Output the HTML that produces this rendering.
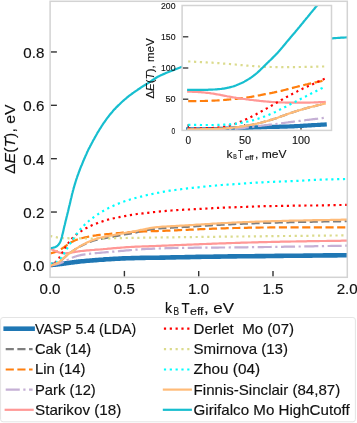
<!DOCTYPE html><html><head><meta charset="utf-8"><style>html,body{margin:0;padding:0;background:#fff;width:357px;height:423px;overflow:hidden}svg{display:block;will-change:transform}</style></head><body>
<svg width="357" height="423" viewBox="0 0 357 423" font-family="'Liberation Sans', sans-serif">
<style>text{stroke:#111;stroke-width:0.15;stroke-linejoin:round}.s{stroke-width:0.1}</style>
<rect x="0" y="0" width="357" height="423" fill="#fff"/>
<defs><clipPath id="cm"><rect x="50.1" y="1.3" width="297.2" height="276"/></clipPath><clipPath id="ci"><rect x="182.1" y="5.5" width="149.4" height="124.9"/></clipPath></defs>
<line x1="50.8" y1="265.40" x2="56.9" y2="265.40" stroke="#333" stroke-width="1.4"/>
<line x1="50.8" y1="212.04" x2="56.9" y2="212.04" stroke="#333" stroke-width="1.4"/>
<line x1="50.8" y1="158.68" x2="56.9" y2="158.68" stroke="#333" stroke-width="1.4"/>
<line x1="50.8" y1="105.32" x2="56.9" y2="105.32" stroke="#333" stroke-width="1.4"/>
<line x1="50.8" y1="51.96" x2="56.9" y2="51.96" stroke="#333" stroke-width="1.4"/>
<line x1="124.40" y1="270.9" x2="124.40" y2="276.6" stroke="#333" stroke-width="1.4"/>
<line x1="198.70" y1="270.9" x2="198.70" y2="276.6" stroke="#333" stroke-width="1.4"/>
<line x1="273.00" y1="270.9" x2="273.00" y2="276.6" stroke="#333" stroke-width="1.4"/>
<g clip-path="url(#cm)">
<path d="M50.1,265.1L50.6,265.0L51.1,265.0L51.6,264.9L52.1,264.9L52.6,264.8L53.1,264.8L53.6,264.7L54.1,264.7L54.6,264.7L55.1,264.6L55.6,264.6L56.1,264.5L56.6,264.4L57.2,264.4L57.7,264.3L58.2,264.3L58.7,264.2L59.2,264.2L59.7,264.1L60.2,264.0L60.7,264.0L61.2,263.9L61.7,263.9L62.2,263.8L62.7,263.7L63.2,263.7L63.7,263.6L64.2,263.5L64.7,263.5L65.2,263.4L65.7,263.3L66.2,263.2L66.7,263.2L67.2,263.1L67.7,263.0L68.2,263.0L68.7,262.9L69.2,262.8L69.7,262.7L70.2,262.7L70.8,262.6L71.3,262.5L71.8,262.5L72.3,262.4L72.8,262.4L73.3,262.3L73.8,262.2L74.3,262.2L74.8,262.1L75.3,262.0L75.8,262.0L76.3,261.9L76.8,261.9L77.3,261.8L77.8,261.7L78.3,261.7L78.8,261.6L79.3,261.6L79.8,261.5L81.6,261.3L83.4,261.2L85.2,261.0L87,260.8L88.8,260.7L90.6,260.5L92.4,260.4L94.2,260.2L96,260.1L97.8,260.0L99.6,259.8L101.4,259.7L103.2,259.6L105,259.4L106.7,259.3L108.5,259.2L110.3,259.1L112.1,259.0L113.9,258.9L115.7,258.8L117.5,258.7L119.3,258.6L121.1,258.5L122.9,258.4L124.7,258.4L126.5,258.3L128.3,258.2L130.1,258.2L131.9,258.1L133.7,258.1L135.5,258.0L137.3,258.0L139.1,258.0L140.9,257.9L142.7,257.9L144.4,257.9L146.2,257.8L148,257.8L149.8,257.8L151.6,257.8L153.4,257.7L155.2,257.7L157,257.7L158.8,257.7L160.6,257.6L162.4,257.6L164.2,257.6L166,257.5L167.8,257.5L169.6,257.5L171.4,257.4L173.2,257.4L175,257.4L176.8,257.3L178.6,257.3L180.3,257.2L182.1,257.2L183.9,257.2L185.7,257.1L187.5,257.1L189.3,257.1L191.1,257.0L192.9,257.0L194.7,257.0L196.5,256.9L198.3,256.9L200.1,256.9L201.9,256.8L203.7,256.8L205.5,256.8L207.3,256.7L209.1,256.7L210.9,256.7L212.7,256.7L214.5,256.6L216.3,256.6L218,256.6L219.8,256.6L221.6,256.5L223.4,256.5L225.2,256.5L227,256.5L228.8,256.4L230.6,256.4L232.4,256.4L234.2,256.4L236,256.4L237.8,256.3L239.6,256.3L241.4,256.3L243.2,256.3L245,256.3L246.8,256.2L248.6,256.2L250.4,256.2L252.2,256.2L254,256.2L255.7,256.1L257.5,256.1L259.3,256.1L261.1,256.1L262.9,256.1L264.7,256.1L266.5,256.0L268.3,256.0L270.1,256.0L271.9,256.0L273.7,256.0L275.5,255.9L277.3,255.9L279.1,255.9L280.9,255.9L282.7,255.9L284.5,255.8L286.3,255.8L288.1,255.8L289.9,255.8L291.6,255.8L293.4,255.7L295.2,255.7L297,255.7L298.8,255.7L300.6,255.7L302.4,255.7L304.2,255.6L306,255.6L307.8,255.6L309.6,255.6L311.4,255.6L313.2,255.5L315,255.5L316.8,255.5L318.6,255.5L320.4,255.5L322.2,255.5L324,255.4L325.8,255.4L327.6,255.4L329.3,255.4L331.1,255.4L332.9,255.4L334.7,255.4L336.5,255.4L338.3,255.3L340.1,255.3L341.9,255.3L343.7,255.3L345.5,255.3L347.3,255.3" fill="none" stroke="#1f77b4" stroke-width="4.6" stroke-linecap="square" stroke-linejoin="round"/>
<path d="M50.1,265.6L50.6,265.5L51.1,265.4L51.6,265.2L52.1,265.1L52.6,264.9L53.1,264.8L53.6,264.6L54.1,264.4L54.6,264.3L55.1,264.1L55.6,263.8L56.1,263.6L56.6,263.4L57.2,263.1L57.7,262.8L58.2,262.5L58.7,262.2L59.2,261.9L59.7,261.5L60.2,261.1L60.7,260.7L61.2,260.3L61.7,259.9L62.2,259.5L62.7,259.1L63.2,258.6L63.7,258.2L64.2,257.7L64.7,257.3L65.2,256.8L65.7,256.4L66.2,256.0L66.7,255.5L67.2,255.1L67.7,254.7L68.2,254.3L68.7,253.9L69.2,253.5L69.7,253.1L70.2,252.8L70.8,252.4L71.3,252.0L71.8,251.7L72.3,251.3L72.8,251.0L73.3,250.6L73.8,250.3L74.3,249.9L74.8,249.6L75.3,249.3L75.8,249.0L76.3,248.7L76.8,248.3L77.3,248.0L77.8,247.7L78.3,247.5L78.8,247.2L79.3,246.9L79.8,246.6L81.6,245.7L83.4,244.8L85.2,243.9L87,243.1L88.8,242.4L90.6,241.7L92.4,241.0L94.2,240.5L96,240.0L97.8,239.6L99.6,239.2L101.4,238.8L103.2,238.5L105,238.2L106.7,237.8L108.5,237.5L110.3,237.2L112.1,236.9L113.9,236.5L115.7,236.2L117.5,235.9L119.3,235.5L121.1,235.2L122.9,234.9L124.7,234.5L126.5,234.2L128.3,233.9L130.1,233.6L131.9,233.2L133.7,232.9L135.5,232.6L137.3,232.2L139.1,231.8L140.9,231.4L142.7,231.1L144.4,230.7L146.2,230.3L148,230.0L149.8,229.7L151.6,229.4L153.4,229.1L155.2,228.9L157,228.7L158.8,228.5L160.6,228.3L162.4,228.2L164.2,228.1L166,228.0L167.8,227.9L169.6,227.8L171.4,227.7L173.2,227.6L175,227.5L176.8,227.4L178.6,227.3L180.3,227.2L182.1,227.1L183.9,227.0L185.7,226.9L187.5,226.8L189.3,226.7L191.1,226.6L192.9,226.5L194.7,226.3L196.5,226.2L198.3,226.1L200.1,226.0L201.9,225.9L203.7,225.8L205.5,225.7L207.3,225.6L209.1,225.5L210.9,225.3L212.7,225.2L214.5,225.1L216.3,225.0L218,224.9L219.8,224.8L221.6,224.7L223.4,224.6L225.2,224.5L227,224.5L228.8,224.4L230.6,224.3L232.4,224.2L234.2,224.1L236,224.0L237.8,223.9L239.6,223.9L241.4,223.8L243.2,223.7L245,223.6L246.8,223.6L248.6,223.5L250.4,223.4L252.2,223.4L254,223.3L255.7,223.2L257.5,223.2L259.3,223.1L261.1,223.0L262.9,223.0L264.7,222.9L266.5,222.9L268.3,222.8L270.1,222.8L271.9,222.7L273.7,222.7L275.5,222.6L277.3,222.6L279.1,222.5L280.9,222.5L282.7,222.4L284.5,222.4L286.3,222.3L288.1,222.3L289.9,222.2L291.6,222.2L293.4,222.1L295.2,222.1L297,222.1L298.8,222.0L300.6,222.0L302.4,222.0L304.2,221.9L306,221.9L307.8,221.8L309.6,221.8L311.4,221.8L313.2,221.7L315,221.7L316.8,221.7L318.6,221.6L320.4,221.6L322.2,221.6L324,221.5L325.8,221.5L327.6,221.5L329.3,221.5L331.1,221.4L332.9,221.4L334.7,221.4L336.5,221.3L338.3,221.3L340.1,221.3L341.9,221.2L343.7,221.2L345.5,221.2L347.3,221.2" fill="none" stroke="#7f7f7f" stroke-width="2.2" stroke-dasharray="8.14 3.52" stroke-linejoin="round"/>
<path d="M50.1,253.4L50.6,253.3L51.1,253.2L51.6,253.1L52.1,252.9L52.6,252.8L53.1,252.7L53.6,252.5L54.1,252.4L54.6,252.2L55.1,252.1L55.6,251.9L56.1,251.7L56.6,251.5L57.2,251.3L57.7,251.1L58.2,250.8L58.7,250.6L59.2,250.3L59.7,250.0L60.2,249.7L60.7,249.4L61.2,249.1L61.7,248.8L62.2,248.4L62.7,248.1L63.2,247.8L63.7,247.4L64.2,247.1L64.7,246.7L65.2,246.3L65.7,246.0L66.2,245.6L66.7,245.3L67.2,244.9L67.7,244.6L68.2,244.2L68.7,243.9L69.2,243.6L69.7,243.2L70.2,242.9L70.8,242.6L71.3,242.3L71.8,242.0L72.3,241.8L72.8,241.5L73.3,241.2L73.8,241.0L74.3,240.8L74.8,240.5L75.3,240.3L75.8,240.1L76.3,239.9L76.8,239.7L77.3,239.5L77.8,239.4L78.3,239.2L78.8,239.0L79.3,238.9L79.8,238.7L81.6,238.2L83.4,237.8L85.2,237.4L87,237.0L88.8,236.6L90.6,236.3L92.4,235.9L94.2,235.6L96,235.4L97.8,235.1L99.6,234.9L101.4,234.7L103.2,234.5L105,234.4L106.7,234.2L108.5,234.0L110.3,233.8L112.1,233.6L113.9,233.5L115.7,233.3L117.5,233.1L119.3,233.0L121.1,232.8L122.9,232.6L124.7,232.5L126.5,232.3L128.3,232.2L130.1,232.1L131.9,232.0L133.7,231.8L135.5,231.8L137.3,231.7L139.1,231.6L140.9,231.5L142.7,231.5L144.4,231.4L146.2,231.4L148,231.3L149.8,231.3L151.6,231.2L153.4,231.2L155.2,231.1L157,231.1L158.8,231.0L160.6,230.9L162.4,230.9L164.2,230.8L166,230.7L167.8,230.7L169.6,230.6L171.4,230.5L173.2,230.4L175,230.4L176.8,230.3L178.6,230.2L180.3,230.1L182.1,230.0L183.9,230.0L185.7,229.9L187.5,229.8L189.3,229.7L191.1,229.6L192.9,229.6L194.7,229.5L196.5,229.4L198.3,229.3L200.1,229.2L201.9,229.2L203.7,229.1L205.5,229.0L207.3,228.9L209.1,228.9L210.9,228.8L212.7,228.7L214.5,228.7L216.3,228.6L218,228.5L219.8,228.5L221.6,228.4L223.4,228.4L225.2,228.3L227,228.2L228.8,228.2L230.6,228.1L232.4,228.1L234.2,228.0L236,228.0L237.8,228.0L239.6,227.9L241.4,227.9L243.2,227.8L245,227.8L246.8,227.8L248.6,227.7L250.4,227.7L252.2,227.7L254,227.6L255.7,227.6L257.5,227.6L259.3,227.6L261.1,227.5L262.9,227.5L264.7,227.5L266.5,227.5L268.3,227.5L270.1,227.4L271.9,227.4L273.7,227.4L275.5,227.4L277.3,227.4L279.1,227.4L280.9,227.4L282.7,227.3L284.5,227.3L286.3,227.3L288.1,227.3L289.9,227.3L291.6,227.3L293.4,227.3L295.2,227.3L297,227.3L298.8,227.3L300.6,227.3L302.4,227.3L304.2,227.3L306,227.3L307.8,227.3L309.6,227.3L311.4,227.3L313.2,227.3L315,227.3L316.8,227.3L318.6,227.3L320.4,227.3L322.2,227.3L324,227.3L325.8,227.3L327.6,227.3L329.3,227.3L331.1,227.3L332.9,227.4L334.7,227.4L336.5,227.4L338.3,227.4L340.1,227.4L341.9,227.4L343.7,227.4L345.5,227.4L347.3,227.4" fill="none" stroke="#ff7f0e" stroke-width="2.2" stroke-dasharray="8.14 3.52" stroke-linejoin="round"/>
<path d="M50.1,265.4L50.6,265.4L51.1,265.3L51.6,265.2L52.1,265.1L52.6,265.1L53.1,265.0L53.6,264.9L54.1,264.8L54.6,264.7L55.1,264.6L55.6,264.5L56.1,264.4L56.6,264.3L57.2,264.1L57.7,264.0L58.2,263.8L58.7,263.7L59.2,263.5L59.7,263.4L60.2,263.2L60.7,263.0L61.2,262.8L61.7,262.6L62.2,262.4L62.7,262.2L63.2,262.0L63.7,261.8L64.2,261.6L64.7,261.3L65.2,261.1L65.7,260.9L66.2,260.6L66.7,260.4L67.2,260.1L67.7,259.9L68.2,259.7L68.7,259.4L69.2,259.2L69.7,258.9L70.2,258.7L70.8,258.4L71.3,258.2L71.8,258.0L72.3,257.7L72.8,257.5L73.3,257.3L73.8,257.1L74.3,256.9L74.8,256.7L75.3,256.6L75.8,256.4L76.3,256.2L76.8,256.1L77.3,255.9L77.8,255.8L78.3,255.7L78.8,255.5L79.3,255.4L79.8,255.3L81.6,254.9L83.4,254.6L85.2,254.3L87,254.1L88.8,253.9L90.6,253.7L92.4,253.5L94.2,253.3L96,253.1L97.8,253.0L99.6,252.8L101.4,252.6L103.2,252.5L105,252.3L106.7,252.2L108.5,252.1L110.3,251.9L112.1,251.7L113.9,251.6L115.7,251.4L117.5,251.3L119.3,251.1L121.1,250.9L122.9,250.8L124.7,250.6L126.5,250.4L128.3,250.3L130.1,250.1L131.9,250.0L133.7,249.8L135.5,249.7L137.3,249.6L139.1,249.5L140.9,249.3L142.7,249.2L144.4,249.1L146.2,249.0L148,248.9L149.8,248.8L151.6,248.8L153.4,248.7L155.2,248.6L157,248.5L158.8,248.5L160.6,248.4L162.4,248.3L164.2,248.3L166,248.2L167.8,248.2L169.6,248.1L171.4,248.1L173.2,248.0L175,248.0L176.8,248.0L178.6,247.9L180.3,247.9L182.1,247.9L183.9,247.9L185.7,247.8L187.5,247.8L189.3,247.8L191.1,247.8L192.9,247.8L194.7,247.7L196.5,247.7L198.3,247.7L200.1,247.7L201.9,247.7L203.7,247.7L205.5,247.7L207.3,247.6L209.1,247.6L210.9,247.6L212.7,247.6L214.5,247.6L216.3,247.6L218,247.6L219.8,247.5L221.6,247.5L223.4,247.5L225.2,247.5L227,247.5L228.8,247.5L230.6,247.4L232.4,247.4L234.2,247.4L236,247.4L237.8,247.4L239.6,247.3L241.4,247.3L243.2,247.3L245,247.3L246.8,247.3L248.6,247.2L250.4,247.2L252.2,247.2L254,247.2L255.7,247.2L257.5,247.1L259.3,247.1L261.1,247.1L262.9,247.1L264.7,247.0L266.5,247.0L268.3,247.0L270.1,247.0L271.9,246.9L273.7,246.9L275.5,246.9L277.3,246.8L279.1,246.8L280.9,246.8L282.7,246.8L284.5,246.7L286.3,246.7L288.1,246.7L289.9,246.6L291.6,246.6L293.4,246.6L295.2,246.6L297,246.5L298.8,246.5L300.6,246.5L302.4,246.4L304.2,246.4L306,246.4L307.8,246.4L309.6,246.3L311.4,246.3L313.2,246.3L315,246.2L316.8,246.2L318.6,246.2L320.4,246.1L322.2,246.1L324,246.1L325.8,246.0L327.6,246.0L329.3,246.0L331.1,245.9L332.9,245.9L334.7,245.9L336.5,245.8L338.3,245.8L340.1,245.8L341.9,245.8L343.7,245.7L345.5,245.7L347.3,245.7" fill="none" stroke="#c5b0d5" stroke-width="2.2" stroke-dasharray="14.08 3.52 2.20 3.52" stroke-linejoin="round"/>
<path d="M50.1,248.7L50.6,249.0L51.1,249.2L51.6,249.4L52.1,249.6L52.6,249.8L53.1,250.1L53.6,250.3L54.1,250.5L54.6,250.7L55.1,251.0L55.6,251.2L56.1,251.4L56.6,251.6L57.2,251.8L57.7,252.0L58.2,252.2L58.7,252.3L59.2,252.5L59.7,252.6L60.2,252.8L60.7,252.9L61.2,253.0L61.7,253.1L62.2,253.1L62.7,253.2L63.2,253.3L63.7,253.3L64.2,253.3L64.7,253.3L65.2,253.3L65.7,253.3L66.2,253.3L66.7,253.2L67.2,253.2L67.7,253.1L68.2,253.1L68.7,253.0L69.2,252.9L69.7,252.8L70.2,252.8L70.8,252.7L71.3,252.6L71.8,252.5L72.3,252.4L72.8,252.3L73.3,252.2L73.8,252.1L74.3,252.1L74.8,252.0L75.3,251.9L75.8,251.8L76.3,251.7L76.8,251.7L77.3,251.6L77.8,251.5L78.3,251.4L78.8,251.4L79.3,251.3L79.8,251.2L81.6,251.0L83.4,250.8L85.2,250.6L87,250.4L88.8,250.3L90.6,250.1L92.4,250.0L94.2,249.9L96,249.7L97.8,249.6L99.6,249.5L101.4,249.3L103.2,249.2L105,249.0L106.7,248.9L108.5,248.7L110.3,248.6L112.1,248.4L113.9,248.2L115.7,248.1L117.5,247.9L119.3,247.8L121.1,247.6L122.9,247.5L124.7,247.3L126.5,247.2L128.3,247.1L130.1,247.0L131.9,246.9L133.7,246.8L135.5,246.7L137.3,246.7L139.1,246.6L140.9,246.5L142.7,246.4L144.4,246.4L146.2,246.3L148,246.3L149.8,246.2L151.6,246.1L153.4,246.1L155.2,246.0L157,245.9L158.8,245.9L160.6,245.8L162.4,245.7L164.2,245.7L166,245.6L167.8,245.5L169.6,245.4L171.4,245.4L173.2,245.3L175,245.2L176.8,245.2L178.6,245.1L180.3,245.0L182.1,244.9L183.9,244.9L185.7,244.8L187.5,244.7L189.3,244.6L191.1,244.6L192.9,244.5L194.7,244.4L196.5,244.3L198.3,244.3L200.1,244.2L201.9,244.1L203.7,244.0L205.5,244.0L207.3,243.9L209.1,243.8L210.9,243.8L212.7,243.7L214.5,243.6L216.3,243.6L218,243.5L219.8,243.4L221.6,243.4L223.4,243.3L225.2,243.3L227,243.2L228.8,243.1L230.6,243.1L232.4,243.0L234.2,243.0L236,242.9L237.8,242.8L239.6,242.8L241.4,242.7L243.2,242.7L245,242.6L246.8,242.6L248.6,242.5L250.4,242.5L252.2,242.4L254,242.4L255.7,242.3L257.5,242.3L259.3,242.2L261.1,242.2L262.9,242.2L264.7,242.1L266.5,242.1L268.3,242.0L270.1,242.0L271.9,241.9L273.7,241.9L275.5,241.9L277.3,241.8L279.1,241.8L280.9,241.7L282.7,241.7L284.5,241.7L286.3,241.6L288.1,241.6L289.9,241.6L291.6,241.5L293.4,241.5L295.2,241.5L297,241.4L298.8,241.4L300.6,241.4L302.4,241.3L304.2,241.3L306,241.3L307.8,241.2L309.6,241.2L311.4,241.2L313.2,241.1L315,241.1L316.8,241.1L318.6,241.1L320.4,241.0L322.2,241.0L324,241.0L325.8,241.0L327.6,240.9L329.3,240.9L331.1,240.9L332.9,240.9L334.7,240.8L336.5,240.8L338.3,240.8L340.1,240.8L341.9,240.7L343.7,240.7L345.5,240.7L347.3,240.7" fill="none" stroke="#ff9896" stroke-width="2.2" stroke-linecap="square" stroke-linejoin="round"/>
<path d="M50.1,266.1L50.6,265.8L51.1,265.5L51.6,265.2L52.1,264.9L52.6,264.6L53.1,264.3L53.6,263.9L54.1,263.5L54.6,263.1L55.1,262.7L55.6,262.2L56.1,261.7L56.6,261.1L57.2,260.5L57.7,259.9L58.2,259.2L58.7,258.5L59.2,257.8L59.7,257.0L60.2,256.2L60.7,255.4L61.2,254.6L61.7,253.7L62.2,252.9L62.7,252.0L63.2,251.2L63.7,250.3L64.2,249.5L64.7,248.6L65.2,247.8L65.7,247.0L66.2,246.2L66.7,245.5L67.2,244.7L67.7,244.0L68.2,243.3L68.7,242.6L69.2,241.9L69.7,241.3L70.2,240.7L70.8,240.1L71.3,239.5L71.8,238.9L72.3,238.4L72.8,237.8L73.3,237.3L73.8,236.8L74.3,236.4L74.8,235.9L75.3,235.5L75.8,235.0L76.3,234.6L76.8,234.2L77.3,233.8L77.8,233.4L78.3,233.1L78.8,232.7L79.3,232.3L79.8,232.0L81.6,230.8L83.4,229.7L85.2,228.6L87,227.7L88.8,226.7L90.6,225.9L92.4,225.1L94.2,224.3L96,223.6L97.8,223.0L99.6,222.3L101.4,221.7L103.2,221.1L105,220.5L106.7,220.0L108.5,219.5L110.3,219.1L112.1,218.6L113.9,218.2L115.7,217.8L117.5,217.4L119.3,217.1L121.1,216.7L122.9,216.4L124.7,216.1L126.5,215.8L128.3,215.4L130.1,215.1L131.9,214.8L133.7,214.6L135.5,214.3L137.3,214.0L139.1,213.8L140.9,213.6L142.7,213.4L144.4,213.2L146.2,213.0L148,212.8L149.8,212.6L151.6,212.4L153.4,212.2L155.2,212.0L157,211.8L158.8,211.6L160.6,211.4L162.4,211.2L164.2,211.1L166,210.9L167.8,210.8L169.6,210.6L171.4,210.5L173.2,210.4L175,210.3L176.8,210.1L178.6,210.0L180.3,209.9L182.1,209.8L183.9,209.7L185.7,209.6L187.5,209.5L189.3,209.5L191.1,209.4L192.9,209.3L194.7,209.2L196.5,209.1L198.3,209.0L200.1,208.9L201.9,208.8L203.7,208.7L205.5,208.6L207.3,208.5L209.1,208.4L210.9,208.3L212.7,208.2L214.5,208.1L216.3,208.0L218,207.9L219.8,207.8L221.6,207.7L223.4,207.6L225.2,207.6L227,207.5L228.8,207.4L230.6,207.4L232.4,207.3L234.2,207.3L236,207.2L237.8,207.1L239.6,207.1L241.4,207.0L243.2,207.0L245,206.9L246.8,206.8L248.6,206.7L250.4,206.7L252.2,206.6L254,206.5L255.7,206.4L257.5,206.4L259.3,206.3L261.1,206.3L262.9,206.2L264.7,206.2L266.5,206.1L268.3,206.1L270.1,206.1L271.9,206.1L273.7,206.0L275.5,206.0L277.3,206.0L279.1,205.9L280.9,205.9L282.7,205.9L284.5,205.8L286.3,205.8L288.1,205.8L289.9,205.7L291.6,205.7L293.4,205.7L295.2,205.7L297,205.6L298.8,205.6L300.6,205.6L302.4,205.6L304.2,205.6L306,205.5L307.8,205.5L309.6,205.5L311.4,205.5L313.2,205.5L315,205.5L316.8,205.5L318.6,205.4L320.4,205.4L322.2,205.4L324,205.3L325.8,205.3L327.6,205.3L329.3,205.2L331.1,205.2L332.9,205.1L334.7,205.1L336.5,205.1L338.3,205.0L340.1,205.0L341.9,205.0L343.7,204.9L345.5,204.9L347.3,204.9" fill="none" stroke="#ff0000" stroke-width="2.2" stroke-dasharray="2.20 3.63" stroke-linejoin="round"/>
<path d="M50.1,236.0L50.6,236.1L51.1,236.2L51.6,236.3L52.1,236.4L52.6,236.5L53.1,236.6L53.6,236.7L54.1,236.8L54.6,236.9L55.1,237.0L55.6,237.1L56.1,237.2L56.6,237.3L57.2,237.4L57.7,237.5L58.2,237.5L58.7,237.6L59.2,237.7L59.7,237.7L60.2,237.8L60.7,237.9L61.2,237.9L61.7,237.9L62.2,238.0L62.7,238.0L63.2,238.1L63.7,238.1L64.2,238.1L64.7,238.1L65.2,238.2L65.7,238.2L66.2,238.2L66.7,238.2L67.2,238.2L67.7,238.2L68.2,238.2L68.7,238.3L69.2,238.3L69.7,238.3L70.2,238.3L70.8,238.3L71.3,238.3L71.8,238.3L72.3,238.3L72.8,238.3L73.3,238.4L73.8,238.4L74.3,238.4L74.8,238.4L75.3,238.4L75.8,238.4L76.3,238.4L76.8,238.4L77.3,238.4L77.8,238.4L78.3,238.4L78.8,238.4L79.3,238.4L79.8,238.4L81.6,238.4L83.4,238.5L85.2,238.5L87,238.5L88.8,238.5L90.6,238.5L92.4,238.5L94.2,238.4L96,238.4L97.8,238.4L99.6,238.4L101.4,238.4L103.2,238.4L105,238.3L106.7,238.3L108.5,238.3L110.3,238.3L112.1,238.2L113.9,238.2L115.7,238.2L117.5,238.1L119.3,238.1L121.1,238.1L122.9,238.0L124.7,238.0L126.5,238.0L128.3,237.9L130.1,237.9L131.9,237.9L133.7,237.9L135.5,237.8L137.3,237.8L139.1,237.8L140.9,237.7L142.7,237.7L144.4,237.7L146.2,237.7L148,237.6L149.8,237.6L151.6,237.6L153.4,237.6L155.2,237.5L157,237.5L158.8,237.5L160.6,237.5L162.4,237.4L164.2,237.4L166,237.4L167.8,237.4L169.6,237.3L171.4,237.3L173.2,237.3L175,237.3L176.8,237.2L178.6,237.2L180.3,237.2L182.1,237.2L183.9,237.1L185.7,237.1L187.5,237.1L189.3,237.1L191.1,237.1L192.9,237.0L194.7,237.0L196.5,237.0L198.3,237.0L200.1,237.0L201.9,236.9L203.7,236.9L205.5,236.9L207.3,236.9L209.1,236.8L210.9,236.8L212.7,236.8L214.5,236.8L216.3,236.8L218,236.7L219.8,236.7L221.6,236.7L223.4,236.7L225.2,236.7L227,236.6L228.8,236.6L230.6,236.6L232.4,236.6L234.2,236.6L236,236.5L237.8,236.5L239.6,236.5L241.4,236.5L243.2,236.5L245,236.4L246.8,236.4L248.6,236.4L250.4,236.4L252.2,236.4L254,236.3L255.7,236.3L257.5,236.3L259.3,236.3L261.1,236.3L262.9,236.3L264.7,236.2L266.5,236.2L268.3,236.2L270.1,236.2L271.9,236.2L273.7,236.1L275.5,236.1L277.3,236.1L279.1,236.1L280.9,236.1L282.7,236.0L284.5,236.0L286.3,236.0L288.1,236.0L289.9,236.0L291.6,235.9L293.4,235.9L295.2,235.9L297,235.9L298.8,235.9L300.6,235.9L302.4,235.8L304.2,235.8L306,235.8L307.8,235.8L309.6,235.8L311.4,235.7L313.2,235.7L315,235.7L316.8,235.7L318.6,235.7L320.4,235.7L322.2,235.6L324,235.6L325.8,235.6L327.6,235.6L329.3,235.6L331.1,235.5L332.9,235.5L334.7,235.5L336.5,235.5L338.3,235.5L340.1,235.4L341.9,235.4L343.7,235.4L345.5,235.4L347.3,235.4" fill="none" stroke="#dbdb8d" stroke-width="2.2" stroke-dasharray="2.20 3.63" stroke-linejoin="round"/>
<path d="M50.1,264.0L50.6,263.9L51.1,263.8L51.6,263.7L52.1,263.7L52.6,263.6L53.1,263.4L53.6,263.3L54.1,263.2L54.6,263.0L55.1,262.8L55.6,262.6L56.1,262.4L56.6,262.1L57.2,261.8L57.7,261.4L58.2,261.0L58.7,260.6L59.2,260.1L59.7,259.6L60.2,259.0L60.7,258.4L61.2,257.8L61.7,257.1L62.2,256.4L62.7,255.6L63.2,254.9L63.7,254.1L64.2,253.3L64.7,252.5L65.2,251.7L65.7,250.9L66.2,250.0L66.7,249.2L67.2,248.4L67.7,247.5L68.2,246.7L68.7,245.9L69.2,245.1L69.7,244.2L70.2,243.4L70.8,242.6L71.3,241.8L71.8,241.1L72.3,240.3L72.8,239.5L73.3,238.7L73.8,238.0L74.3,237.3L74.8,236.5L75.3,235.8L75.8,235.1L76.3,234.4L76.8,233.7L77.3,233.1L77.8,232.4L78.3,231.8L78.8,231.2L79.3,230.5L79.8,229.9L81.6,227.9L83.4,226.0L85.2,224.2L87,222.5L88.8,221.0L90.6,219.5L92.4,218.1L94.2,216.8L96,215.5L97.8,214.3L99.6,213.1L101.4,212.0L103.2,211.0L105,210.0L106.7,209.1L108.5,208.1L110.3,207.3L112.1,206.4L113.9,205.6L115.7,204.8L117.5,204.0L119.3,203.3L121.1,202.6L122.9,201.9L124.7,201.3L126.5,200.7L128.3,200.1L130.1,199.5L131.9,199.0L133.7,198.5L135.5,198.0L137.3,197.5L139.1,197.0L140.9,196.6L142.7,196.2L144.4,195.7L146.2,195.3L148,194.9L149.8,194.5L151.6,194.1L153.4,193.7L155.2,193.3L157,192.9L158.8,192.6L160.6,192.2L162.4,191.9L164.2,191.6L166,191.3L167.8,191.0L169.6,190.7L171.4,190.5L173.2,190.2L175,190.0L176.8,189.7L178.6,189.5L180.3,189.3L182.1,189.0L183.9,188.8L185.7,188.6L187.5,188.4L189.3,188.2L191.1,188.0L192.9,187.8L194.7,187.6L196.5,187.4L198.3,187.3L200.1,187.1L201.9,186.9L203.7,186.7L205.5,186.5L207.3,186.3L209.1,186.2L210.9,186.0L212.7,185.8L214.5,185.6L216.3,185.5L218,185.3L219.8,185.2L221.6,185.0L223.4,184.9L225.2,184.8L227,184.7L228.8,184.5L230.6,184.4L232.4,184.3L234.2,184.2L236,184.1L237.8,183.9L239.6,183.8L241.4,183.7L243.2,183.6L245,183.4L246.8,183.3L248.6,183.2L250.4,183.0L252.2,182.9L254,182.8L255.7,182.7L257.5,182.6L259.3,182.5L261.1,182.4L262.9,182.3L264.7,182.2L266.5,182.1L268.3,182.0L270.1,181.9L271.9,181.9L273.7,181.8L275.5,181.7L277.3,181.7L279.1,181.6L280.9,181.5L282.7,181.5L284.5,181.4L286.3,181.3L288.1,181.3L289.9,181.2L291.6,181.1L293.4,181.1L295.2,181.0L297,180.9L298.8,180.8L300.6,180.7L302.4,180.6L304.2,180.5L306,180.4L307.8,180.3L309.6,180.2L311.4,180.1L313.2,180.0L315,179.9L316.8,179.9L318.6,179.8L320.4,179.7L322.2,179.6L324,179.6L325.8,179.5L327.6,179.4L329.3,179.4L331.1,179.3L332.9,179.3L334.7,179.2L336.5,179.2L338.3,179.2L340.1,179.1L341.9,179.1L343.7,179.1L345.5,179.0L347.3,179.0" fill="none" stroke="#00ffff" stroke-width="2.2" stroke-dasharray="2.20 3.63" stroke-linejoin="round"/>
<path d="M50.1,265.6L50.6,265.5L51.1,265.4L51.6,265.2L52.1,265.1L52.6,264.9L53.1,264.8L53.6,264.6L54.1,264.4L54.6,264.3L55.1,264.1L55.6,263.8L56.1,263.6L56.6,263.4L57.2,263.1L57.7,262.8L58.2,262.5L58.7,262.2L59.2,261.9L59.7,261.5L60.2,261.1L60.7,260.7L61.2,260.3L61.7,259.9L62.2,259.5L62.7,259.1L63.2,258.6L63.7,258.2L64.2,257.7L64.7,257.3L65.2,256.8L65.7,256.4L66.2,256.0L66.7,255.5L67.2,255.1L67.7,254.7L68.2,254.3L68.7,253.9L69.2,253.5L69.7,253.1L70.2,252.8L70.8,252.4L71.3,252.0L71.8,251.7L72.3,251.3L72.8,251.0L73.3,250.6L73.8,250.3L74.3,249.9L74.8,249.6L75.3,249.3L75.8,248.9L76.3,248.6L76.8,248.3L77.3,248.0L77.8,247.7L78.3,247.4L78.8,247.0L79.3,246.7L79.8,246.4L81.6,245.4L83.4,244.4L85.2,243.5L87,242.6L88.8,241.7L90.6,240.9L92.4,240.2L94.2,239.6L96,239.0L97.8,238.4L99.6,237.9L101.4,237.5L103.2,237.1L105,236.7L106.7,236.4L108.5,236.0L110.3,235.7L112.1,235.4L113.9,235.0L115.7,234.7L117.5,234.4L119.3,234.0L121.1,233.7L122.9,233.4L124.7,233.0L126.5,232.7L128.3,232.4L130.1,232.1L131.9,231.7L133.7,231.4L135.5,231.1L137.3,230.7L139.1,230.3L140.9,229.9L142.7,229.6L144.4,229.2L146.2,228.8L148,228.5L149.8,228.2L151.6,227.9L153.4,227.6L155.2,227.4L157,227.2L158.8,227.0L160.6,226.8L162.4,226.7L164.2,226.6L166,226.5L167.8,226.4L169.6,226.3L171.4,226.2L173.2,226.1L175,226.0L176.8,225.9L178.6,225.8L180.3,225.7L182.1,225.6L183.9,225.5L185.7,225.4L187.5,225.3L189.3,225.2L191.1,225.1L192.9,225.0L194.7,224.8L196.5,224.7L198.3,224.6L200.1,224.5L201.9,224.4L203.7,224.3L205.5,224.2L207.3,224.1L209.1,224.0L210.9,223.8L212.7,223.7L214.5,223.6L216.3,223.5L218,223.4L219.8,223.3L221.6,223.2L223.4,223.1L225.2,223.0L227,223.0L228.8,222.9L230.6,222.8L232.4,222.7L234.2,222.6L236,222.5L237.8,222.4L239.6,222.4L241.4,222.3L243.2,222.2L245,222.1L246.8,222.1L248.6,222.0L250.4,221.9L252.2,221.9L254,221.8L255.7,221.7L257.5,221.7L259.3,221.6L261.1,221.5L262.9,221.5L264.7,221.4L266.5,221.4L268.3,221.3L270.1,221.3L271.9,221.2L273.7,221.2L275.5,221.1L277.3,221.1L279.1,221.0L280.9,221.0L282.7,220.9L284.5,220.9L286.3,220.8L288.1,220.8L289.9,220.7L291.6,220.7L293.4,220.6L295.2,220.6L297,220.6L298.8,220.5L300.6,220.5L302.4,220.5L304.2,220.4L306,220.4L307.8,220.3L309.6,220.3L311.4,220.3L313.2,220.2L315,220.2L316.8,220.2L318.6,220.1L320.4,220.1L322.2,220.1L324,220.0L325.8,220.0L327.6,220.0L329.3,220.0L331.1,219.9L332.9,219.9L334.7,219.9L336.5,219.8L338.3,219.8L340.1,219.8L341.9,219.7L343.7,219.7L345.5,219.7L347.3,219.7" fill="none" stroke="#ffbb78" stroke-width="2.2" stroke-linecap="square" stroke-linejoin="round"/>
<path d="M50.2,248.3L51.6,248.0L52.9,247.7L54.3,247.4L55.5,246.9L56.7,246.3L57.7,245.5L58.6,244.5L59.4,243.4L60.1,242.2L60.6,241.0L61.1,239.7L61.5,238.3L61.9,237.0L62.2,235.6L62.5,234.2L62.9,232.9L63.2,231.5L63.5,230.2L63.8,228.8L64.1,227.5L64.4,226.1L64.8,224.8L65.1,223.4L65.4,222.1L65.7,220.7L66.1,219.4L66.4,218.0L66.7,216.7L67.1,215.3L67.4,214.0L67.7,212.7L68.1,211.3L68.4,210.0L68.7,208.6L69,207.3L69.3,205.9L69.7,204.6L70,203.2L70.3,201.9L70.6,200.5L70.9,199.2L71.3,197.8L71.6,196.5L71.9,195.1L72.2,193.8L72.6,192.5L72.9,191.1L73.3,189.8L73.6,188.4L74,187.1L74.4,185.8L74.8,184.4L75.2,183.1L75.6,181.8L76,180.5L76.4,179.1L76.9,177.8L77.3,176.5L77.8,175.2L78.3,173.9L78.7,172.6L79.2,171.3L79.7,170.0L80.2,168.7L80.7,167.4L81.2,166.1L81.8,164.9L82.3,163.6L82.8,162.3L83.3,161.0L83.9,159.7L84.4,158.5L85,157.2L85.5,155.9L86.1,154.7L86.7,153.4L87.2,152.1L87.8,150.9L88.4,149.6L89,148.4L89.7,147.2L90.3,145.9L91,144.7L91.6,143.5L92.3,142.3L92.9,141.1L93.6,139.8L94.3,138.6L94.9,137.4L95.6,136.2L96.3,135.0L97,133.8L97.6,132.6L98.4,131.4L99.1,130.2L99.8,129.0L100.6,127.9L101.3,126.7L102.1,125.5L102.8,124.4L103.6,123.2L104.4,122.1L105.2,121.0L106,119.8L106.8,118.7L107.6,117.6L108.5,116.5L109.3,115.4L110.2,114.3L111.1,113.2L112,112.2L112.9,111.1L113.8,110.1L114.7,109.1L115.7,108.1L116.6,107.1L117.6,106.1L118.6,105.1L119.6,104.2L120.6,103.2L121.6,102.3L122.7,101.3L123.7,100.4L124.7,99.5L125.8,98.6L126.8,97.7L127.9,96.8L129,95.9L130.1,95.1L131.2,94.3L132.3,93.5L133.5,92.7L134.6,91.9L135.7,91.1L136.9,90.3L138,89.5L139.2,88.8L140.3,88.0L141.5,87.2L142.6,86.5L143.8,85.7L145,85.0L146.2,84.3L147.3,83.6L148.5,82.8L149.7,82.1L150.8,81.3L152,80.5L153.1,79.8L154.3,79.0L155.4,78.2L156.6,77.5L157.8,76.8L159,76.2L160.3,75.6L161.5,75.0L162.8,74.4L164.1,73.9L165.4,73.3L166.6,72.8L167.9,72.3L169.2,71.8L170.5,71.3L171.8,70.8L173.1,70.3L174.4,69.7L175.6,69.2L176.9,68.7L178.2,68.2L179.5,67.7L180.8,67.2L182.1,66.7L183.4,66.2L184.7,65.7L186,65.2L187.3,64.7L188.6,64.2L189.9,63.8L191.2,63.3L192.5,62.9L193.8,62.4L195.1,62.0L196.4,61.5L197.7,61.1L199.1,60.7L200.4,60.2L201.7,59.8L203,59.4L204.4,59.0L205.7,58.6L207,58.2L208.3,57.8L209.7,57.4L211,57.0L212.3,56.7L213.7,56.3L215,55.9L216.3,55.5L217.7,55.2L219,54.8L220.4,54.5L221.7,54.1L223,53.8L224.4,53.5L225.7,53.1L227.1,52.8L228.4,52.5L229.8,52.2L231.1,51.9L232.5,51.6L233.8,51.3L235.2,51.0L236.5,50.7L237.9,50.4L239.3,50.1L240.6,49.8L242,49.6L243.3,49.3L244.7,49.1L246.1,48.8L247.4,48.5L248.8,48.3L250.1,48.0L251.5,47.8L252.9,47.6L254.2,47.3L255.6,47.1L257,46.9L258.3,46.7L259.7,46.4L261.1,46.2L262.4,46.0L263.8,45.8L265.2,45.6L266.6,45.4L267.9,45.2L269.3,45.0L270.7,44.8L272.1,44.6L273.4,44.4L274.8,44.2L276.2,44.0L277.5,43.9L278.9,43.7L280.3,43.5L281.7,43.3L283,43.1L284.4,43.0L285.8,42.8L287.2,42.6L288.5,42.5L289.9,42.3L291.3,42.1L292.7,42.0L294.1,41.8L295.4,41.7L296.8,41.5L298.2,41.3L299.6,41.2L300.9,41.0L302.3,40.9L303.7,40.8L305.1,40.6L306.5,40.5L307.8,40.3L309.2,40.2L310.6,40.1L312,39.9L313.4,39.8L314.7,39.7L316.1,39.6L317.5,39.4L318.9,39.3L320.3,39.2L321.6,39.1L323,39.0L324.4,38.9L325.8,38.8L327.2,38.7L328.5,38.6L329.9,38.5L331.3,38.4L332.7,38.3L334.1,38.2L335.4,38.1L336.8,38.0L338.2,37.9L339.6,37.8L341,37.7L342.4,37.7L343.7,37.6L345.1,37.5L346.5,37.4L347.9,37.3L349.3,37.2L350.7,37.2L352,37.1L353.4,37.0L354.8,36.9" fill="none" stroke="#17becf" stroke-width="2.2" stroke-linecap="square" stroke-linejoin="round"/>
</g>
<rect x="50.1" y="1.3" width="297.2" height="276" fill="none" stroke="#d3d3d3" stroke-width="1.5"/>
<text x="44.3" y="271.30" font-size="14.2" fill="#111" text-anchor="end" textLength="21" lengthAdjust="spacingAndGlyphs">0.0</text>
<text x="44.3" y="217.94" font-size="14.2" fill="#111" text-anchor="end" textLength="21" lengthAdjust="spacingAndGlyphs">0.2</text>
<text x="44.3" y="164.58" font-size="14.2" fill="#111" text-anchor="end" textLength="21" lengthAdjust="spacingAndGlyphs">0.4</text>
<text x="44.3" y="111.22" font-size="14.2" fill="#111" text-anchor="end" textLength="21" lengthAdjust="spacingAndGlyphs">0.6</text>
<text x="44.3" y="57.86" font-size="14.2" fill="#111" text-anchor="end" textLength="21" lengthAdjust="spacingAndGlyphs">0.8</text>
<text x="39.50" y="294.1" font-size="14.2" fill="#111" textLength="21" lengthAdjust="spacingAndGlyphs">0.0</text>
<text x="113.80" y="294.1" font-size="14.2" fill="#111" textLength="21" lengthAdjust="spacingAndGlyphs">0.5</text>
<text x="188.10" y="294.1" font-size="14.2" fill="#111" textLength="21" lengthAdjust="spacingAndGlyphs">1.0</text>
<text x="262.40" y="294.1" font-size="14.2" fill="#111" textLength="21" lengthAdjust="spacingAndGlyphs">1.5</text>
<text x="336.70" y="294.1" font-size="14.2" fill="#111" textLength="21" lengthAdjust="spacingAndGlyphs">2.0</text>
<text transform="translate(14.8,174) rotate(-90)" font-size="15.2" fill="#111" textLength="69.6" lengthAdjust="spacingAndGlyphs">&#916;<tspan font-style="italic">E</tspan>(<tspan font-style="italic">T</tspan>), eV</text>
<text x="164.93" y="312.8" font-size="15.2" fill="#111" textLength="7.15" lengthAdjust="spacingAndGlyphs" xml:space="preserve">k</text>
<text x="173.5" y="314.8" font-size="10.6" fill="#111" textLength="5.58" lengthAdjust="spacingAndGlyphs" xml:space="preserve">B</text>
<text x="181.42" y="312.8" font-size="15.2" fill="#111" textLength="8.14" lengthAdjust="spacingAndGlyphs" xml:space="preserve">T</text>
<text x="190.0" y="314.8" font-size="10.6" fill="#111" textLength="13.53" lengthAdjust="spacingAndGlyphs" xml:space="preserve">eff</text>
<text x="203.95" y="312.8" font-size="15.2" fill="#111" textLength="30.06" lengthAdjust="spacingAndGlyphs" xml:space="preserve">, eV</text>
<rect x="182.1" y="5.5" width="149.4" height="124.9" fill="#fff"/>
<line x1="182.8" y1="99.20" x2="188.3" y2="99.20" stroke="#333" stroke-width="1.3"/>
<line x1="182.8" y1="68.00" x2="188.3" y2="68.00" stroke="#333" stroke-width="1.3"/>
<line x1="182.8" y1="36.80" x2="188.3" y2="36.80" stroke="#333" stroke-width="1.3"/>
<line x1="188.20" y1="124.3" x2="188.20" y2="129.7" stroke="#333" stroke-width="1.3"/>
<line x1="244.60" y1="124.3" x2="244.60" y2="129.7" stroke="#333" stroke-width="1.3"/>
<line x1="301.00" y1="124.3" x2="301.00" y2="129.7" stroke="#333" stroke-width="1.3"/>
<g clip-path="url(#ci)">
<path d="M188.2,129.4L189.3,129.4L190.5,129.4L191.6,129.4L192.8,129.4L193.9,129.4L195.1,129.4L196.2,129.4L197.4,129.4L198.5,129.3L199.7,129.3L200.8,129.3L202,129.3L203.1,129.3L204.3,129.3L205.4,129.3L206.6,129.3L207.7,129.2L208.8,129.2L210,129.2L211.1,129.2L212.3,129.2L213.4,129.1L214.6,129.1L215.7,129.1L216.9,129.1L218,129.0L219.2,129.0L220.3,128.9L221.5,128.9L222.6,128.9L223.8,128.8L224.9,128.8L226,128.7L227.2,128.7L228.3,128.6L229.5,128.6L230.6,128.6L231.8,128.5L232.9,128.4L234.1,128.4L235.2,128.3L236.4,128.3L237.5,128.2L238.7,128.2L239.8,128.1L241,128.1L242.1,128.0L243.3,128.0L244.4,127.9L245.5,127.9L246.7,127.8L247.8,127.8L249,127.7L250.1,127.7L251.3,127.6L252.4,127.6L253.6,127.5L254.7,127.5L255.9,127.4L257,127.4L258.2,127.3L259.3,127.3L260.5,127.3L261.6,127.2L262.8,127.2L263.9,127.1L265,127.1L266.2,127.1L267.3,127.0L268.5,127.0L269.6,127.0L270.8,126.9L271.9,126.9L273.1,126.9L274.2,126.9L275.4,126.8L276.5,126.8L277.7,126.8L278.8,126.8L280,126.7L281.1,126.7L282.3,126.7L283.4,126.7L284.5,126.6L285.7,126.6L286.8,126.6L288,126.5L289.1,126.5L290.3,126.4L291.4,126.4L292.6,126.3L293.7,126.3L294.9,126.2L296,126.2L297.2,126.1L298.3,126.0L299.5,126.0L300.6,125.9L301.7,125.8L302.9,125.8L304,125.7L305.2,125.6L306.3,125.6L307.5,125.5L308.6,125.4L309.8,125.4L310.9,125.3L312.1,125.2L313.2,125.2L314.4,125.1L315.5,125.0L316.7,125.0L317.8,124.9L319,124.8L320.1,124.8L321.2,124.7L322.4,124.6L323.5,124.6L324.7,124.5" fill="none" stroke="#1f77b4" stroke-width="4.2" stroke-linecap="square" stroke-linejoin="round"/>
<path d="M188.2,129.3L189.3,129.3L190.5,129.3L191.6,129.3L192.8,129.3L193.9,129.3L195.1,129.3L196.2,129.3L197.4,129.3L198.5,129.3L199.7,129.3L200.8,129.2L202,129.2L203.1,129.2L204.3,129.2L205.4,129.2L206.6,129.2L207.7,129.1L208.8,129.1L210,129.1L211.1,129.0L212.3,129.0L213.4,129.0L214.6,128.9L215.7,128.9L216.9,128.8L218,128.8L219.2,128.7L220.3,128.7L221.5,128.6L222.6,128.5L223.8,128.4L224.9,128.4L226,128.3L227.2,128.2L228.3,128.1L229.5,128.0L230.6,127.9L231.8,127.8L232.9,127.6L234.1,127.5L235.2,127.4L236.4,127.3L237.5,127.1L238.7,127.0L239.8,126.8L241,126.6L242.1,126.5L243.3,126.3L244.4,126.1L245.5,125.9L246.7,125.7L247.8,125.5L249,125.3L250.1,125.0L251.3,124.8L252.4,124.6L253.6,124.3L254.7,124.1L255.9,123.8L257,123.6L258.2,123.3L259.3,123.0L260.5,122.8L261.6,122.5L262.8,122.2L263.9,121.9L265,121.6L266.2,121.3L267.3,121.0L268.5,120.6L269.6,120.3L270.8,119.9L271.9,119.6L273.1,119.2L274.2,118.8L275.4,118.5L276.5,118.1L277.7,117.7L278.8,117.2L280,116.8L281.1,116.4L282.3,116.0L283.4,115.6L284.5,115.2L285.7,114.7L286.8,114.3L288,113.9L289.1,113.5L290.3,113.1L291.4,112.7L292.6,112.4L293.7,112.0L294.9,111.6L296,111.3L297.2,110.9L298.3,110.5L299.5,110.2L300.6,109.9L301.7,109.5L302.9,109.2L304,108.9L305.2,108.6L306.3,108.3L307.5,107.9L308.6,107.6L309.8,107.3L310.9,107.0L312.1,106.7L313.2,106.4L314.4,106.1L315.5,105.9L316.7,105.6L317.8,105.3L319,105.0L320.1,104.8L321.2,104.5L322.4,104.2L323.5,104.0L324.7,103.7" fill="none" stroke="#7f7f7f" stroke-width="2.2" stroke-dasharray="8.14 3.52" stroke-linejoin="round"/>
<path d="M188.2,101.1L189.3,101.1L190.5,101.1L191.6,101.1L192.8,101.1L193.9,101.1L195.1,101.1L196.2,101.1L197.4,101.1L198.5,101.1L199.7,101.0L200.8,101.0L202,101.0L203.1,101.0L204.3,101.0L205.4,100.9L206.6,100.9L207.7,100.9L208.8,100.8L210,100.8L211.1,100.8L212.3,100.7L213.4,100.7L214.6,100.6L215.7,100.5L216.9,100.5L218,100.4L219.2,100.3L220.3,100.2L221.5,100.2L222.6,100.1L223.8,100.0L224.9,99.9L226,99.8L227.2,99.7L228.3,99.6L229.5,99.5L230.6,99.4L231.8,99.3L232.9,99.1L234.1,99.0L235.2,98.9L236.4,98.8L237.5,98.7L238.7,98.5L239.8,98.4L241,98.3L242.1,98.1L243.3,98.0L244.4,97.8L245.5,97.7L246.7,97.5L247.8,97.3L249,97.2L250.1,97.0L251.3,96.8L252.4,96.6L253.6,96.4L254.7,96.2L255.9,96.0L257,95.7L258.2,95.5L259.3,95.3L260.5,95.1L261.6,94.8L262.8,94.6L263.9,94.4L265,94.2L266.2,94.0L267.3,93.8L268.5,93.5L269.6,93.3L270.8,93.1L271.9,92.9L273.1,92.6L274.2,92.4L275.4,92.1L276.5,91.9L277.7,91.7L278.8,91.4L280,91.1L281.1,90.9L282.3,90.6L283.4,90.3L284.5,90.0L285.7,89.7L286.8,89.4L288,89.1L289.1,88.8L290.3,88.5L291.4,88.2L292.6,87.9L293.7,87.6L294.9,87.3L296,87.0L297.2,86.7L298.3,86.4L299.5,86.1L300.6,85.8L301.7,85.6L302.9,85.3L304,85.0L305.2,84.7L306.3,84.5L307.5,84.2L308.6,83.9L309.8,83.7L310.9,83.4L312.1,83.1L313.2,82.9L314.4,82.6L315.5,82.3L316.7,82.1L317.8,81.8L319,81.6L320.1,81.3L321.2,81.1L322.4,80.8L323.5,80.6L324.7,80.3" fill="none" stroke="#ff7f0e" stroke-width="2.2" stroke-dasharray="8.14 3.52" stroke-linejoin="round"/>
<path d="M188.2,129.8L189.3,129.8L190.5,129.9L191.6,129.9L192.8,129.9L193.9,129.9L195.1,129.9L196.2,129.9L197.4,129.9L198.5,129.9L199.7,129.9L200.8,129.9L202,129.9L203.1,129.9L204.3,129.9L205.4,129.9L206.6,129.9L207.7,129.9L208.8,129.9L210,129.9L211.1,129.9L212.3,129.9L213.4,129.9L214.6,129.8L215.7,129.8L216.9,129.8L218,129.8L219.2,129.7L220.3,129.7L221.5,129.7L222.6,129.6L223.8,129.6L224.9,129.5L226,129.4L227.2,129.4L228.3,129.3L229.5,129.2L230.6,129.2L231.8,129.1L232.9,129.0L234.1,128.9L235.2,128.8L236.4,128.7L237.5,128.6L238.7,128.5L239.8,128.4L241,128.2L242.1,128.1L243.3,128.0L244.4,127.8L245.5,127.7L246.7,127.5L247.8,127.4L249,127.2L250.1,127.1L251.3,126.9L252.4,126.8L253.6,126.6L254.7,126.5L255.9,126.3L257,126.2L258.2,126.0L259.3,125.9L260.5,125.8L261.6,125.6L262.8,125.5L263.9,125.4L265,125.2L266.2,125.1L267.3,125.0L268.5,124.8L269.6,124.7L270.8,124.6L271.9,124.4L273.1,124.3L274.2,124.1L275.4,124.0L276.5,123.9L277.7,123.7L278.8,123.6L280,123.4L281.1,123.3L282.3,123.1L283.4,123.0L284.5,122.8L285.7,122.7L286.8,122.5L288,122.4L289.1,122.2L290.3,122.1L291.4,121.9L292.6,121.8L293.7,121.6L294.9,121.5L296,121.3L297.2,121.2L298.3,121.0L299.5,120.9L300.6,120.8L301.7,120.6L302.9,120.5L304,120.3L305.2,120.2L306.3,120.0L307.5,119.9L308.6,119.8L309.8,119.6L310.9,119.5L312.1,119.3L313.2,119.2L314.4,119.1L315.5,118.9L316.7,118.8L317.8,118.7L319,118.5L320.1,118.4L321.2,118.2L322.4,118.1L323.5,117.9L324.7,117.7" fill="none" stroke="#c5b0d5" stroke-width="2.2" stroke-dasharray="14.08 3.52 2.20 3.52" stroke-linejoin="round"/>
<path d="M188.2,91.6L189.3,91.6L190.5,91.7L191.6,91.7L192.8,91.8L193.9,91.8L195.1,91.9L196.2,92.0L197.4,92.0L198.5,92.1L199.7,92.2L200.8,92.2L202,92.3L203.1,92.4L204.3,92.5L205.4,92.7L206.6,92.8L207.7,92.9L208.8,93.0L210,93.2L211.1,93.4L212.3,93.5L213.4,93.7L214.6,93.9L215.7,94.1L216.9,94.3L218,94.5L219.2,94.7L220.3,94.9L221.5,95.2L222.6,95.4L223.8,95.6L224.9,95.8L226,96.0L227.2,96.3L228.3,96.5L229.5,96.7L230.6,96.9L231.8,97.1L232.9,97.3L234.1,97.5L235.2,97.7L236.4,97.9L237.5,98.0L238.7,98.2L239.8,98.4L241,98.6L242.1,98.7L243.3,98.9L244.4,99.0L245.5,99.2L246.7,99.3L247.8,99.5L249,99.6L250.1,99.8L251.3,99.9L252.4,100.0L253.6,100.2L254.7,100.3L255.9,100.4L257,100.6L258.2,100.7L259.3,100.8L260.5,101.0L261.6,101.1L262.8,101.2L263.9,101.3L265,101.4L266.2,101.5L267.3,101.6L268.5,101.7L269.6,101.8L270.8,101.9L271.9,102.0L273.1,102.1L274.2,102.1L275.4,102.2L276.5,102.3L277.7,102.3L278.8,102.4L280,102.4L281.1,102.4L282.3,102.5L283.4,102.5L284.5,102.5L285.7,102.6L286.8,102.6L288,102.6L289.1,102.6L290.3,102.6L291.4,102.7L292.6,102.7L293.7,102.7L294.9,102.7L296,102.7L297.2,102.7L298.3,102.7L299.5,102.7L300.6,102.7L301.7,102.7L302.9,102.7L304,102.7L305.2,102.7L306.3,102.6L307.5,102.6L308.6,102.6L309.8,102.6L310.9,102.5L312.1,102.5L313.2,102.5L314.4,102.4L315.5,102.4L316.7,102.3L317.8,102.3L319,102.2L320.1,102.2L321.2,102.1L322.4,102.0L323.5,102.0L324.7,101.9" fill="none" stroke="#ff9896" stroke-width="2.2" stroke-linecap="square" stroke-linejoin="round"/>
<path d="M188.2,128.4L189.3,128.4L190.5,128.4L191.6,128.4L192.8,128.4L193.9,128.4L195.1,128.4L196.2,128.4L197.4,128.4L198.5,128.4L199.7,128.4L200.8,128.3L202,128.3L203.1,128.3L204.3,128.3L205.4,128.3L206.6,128.2L207.7,128.2L208.8,128.2L210,128.1L211.1,128.1L212.3,128.0L213.4,127.9L214.6,127.9L215.7,127.8L216.9,127.7L218,127.6L219.2,127.4L220.3,127.3L221.5,127.2L222.6,127.0L223.8,126.8L224.9,126.6L226,126.4L227.2,126.2L228.3,125.9L229.5,125.6L230.6,125.3L231.8,125.0L232.9,124.6L234.1,124.3L235.2,123.9L236.4,123.5L237.5,123.0L238.7,122.6L239.8,122.1L241,121.6L242.1,121.2L243.3,120.7L244.4,120.1L245.5,119.6L246.7,119.1L247.8,118.5L249,118.0L250.1,117.4L251.3,116.8L252.4,116.2L253.6,115.7L254.7,115.1L255.9,114.5L257,113.8L258.2,113.2L259.3,112.6L260.5,112.0L261.6,111.3L262.8,110.7L263.9,110.1L265,109.4L266.2,108.7L267.3,108.1L268.5,107.4L269.6,106.8L270.8,106.1L271.9,105.4L273.1,104.8L274.2,104.1L275.4,103.4L276.5,102.8L277.7,102.1L278.8,101.5L280,100.8L281.1,100.1L282.3,99.5L283.4,98.8L284.5,98.2L285.7,97.5L286.8,96.9L288,96.3L289.1,95.6L290.3,95.0L291.4,94.4L292.6,93.8L293.7,93.2L294.9,92.6L296,92.0L297.2,91.4L298.3,90.8L299.5,90.3L300.6,89.7L301.7,89.2L302.9,88.6L304,88.1L305.2,87.5L306.3,87.0L307.5,86.5L308.6,85.9L309.8,85.4L310.9,84.9L312.1,84.4L313.2,83.9L314.4,83.4L315.5,82.9L316.7,82.4L317.8,81.8L319,81.3L320.1,80.8L321.2,80.3L322.4,79.8L323.5,79.3L324.7,78.8" fill="none" stroke="#ff0000" stroke-width="2.2" stroke-dasharray="2.20 3.63" stroke-linejoin="round"/>
<path d="M188.2,61.4L189.3,61.5L190.5,61.5L191.6,61.6L192.8,61.6L193.9,61.7L195.1,61.8L196.2,61.8L197.4,61.9L198.5,61.9L199.7,62.0L200.8,62.1L202,62.1L203.1,62.2L204.3,62.3L205.4,62.3L206.6,62.4L207.7,62.5L208.8,62.5L210,62.6L211.1,62.7L212.3,62.7L213.4,62.8L214.6,62.9L215.7,63.0L216.9,63.1L218,63.1L219.2,63.2L220.3,63.3L221.5,63.4L222.6,63.5L223.8,63.6L224.9,63.7L226,63.7L227.2,63.8L228.3,63.9L229.5,64.0L230.6,64.1L231.8,64.2L232.9,64.3L234.1,64.4L235.2,64.5L236.4,64.7L237.5,64.8L238.7,64.9L239.8,65.0L241,65.1L242.1,65.2L243.3,65.3L244.4,65.4L245.5,65.5L246.7,65.6L247.8,65.7L249,65.8L250.1,65.8L251.3,65.9L252.4,66.0L253.6,66.1L254.7,66.2L255.9,66.3L257,66.3L258.2,66.4L259.3,66.5L260.5,66.5L261.6,66.6L262.8,66.7L263.9,66.7L265,66.8L266.2,66.8L267.3,66.9L268.5,66.9L269.6,66.9L270.8,67.0L271.9,67.0L273.1,67.0L274.2,67.1L275.4,67.1L276.5,67.1L277.7,67.1L278.8,67.1L280,67.1L281.1,67.1L282.3,67.2L283.4,67.2L284.5,67.2L285.7,67.2L286.8,67.2L288,67.2L289.1,67.2L290.3,67.1L291.4,67.1L292.6,67.1L293.7,67.1L294.9,67.1L296,67.1L297.2,67.1L298.3,67.1L299.5,67.0L300.6,67.0L301.7,67.0L302.9,67.0L304,66.9L305.2,66.9L306.3,66.9L307.5,66.9L308.6,66.8L309.8,66.8L310.9,66.8L312.1,66.8L313.2,66.7L314.4,66.7L315.5,66.7L316.7,66.6L317.8,66.6L319,66.6L320.1,66.6L321.2,66.5L322.4,66.5L323.5,66.5L324.7,66.4" fill="none" stroke="#dbdb8d" stroke-width="2.2" stroke-dasharray="2.20 3.63" stroke-linejoin="round"/>
<path d="M188.2,124.9L189.3,124.9L190.5,124.9L191.6,124.9L192.8,124.9L193.9,124.9L195.1,124.9L196.2,124.9L197.4,124.9L198.5,124.9L199.7,124.9L200.8,125.0L202,125.0L203.1,125.0L204.3,125.0L205.4,125.0L206.6,125.0L207.7,125.0L208.8,125.0L210,125.0L211.1,125.0L212.3,125.0L213.4,125.0L214.6,124.9L215.7,124.9L216.9,124.9L218,124.9L219.2,124.9L220.3,124.8L221.5,124.8L222.6,124.8L223.8,124.7L224.9,124.7L226,124.6L227.2,124.5L228.3,124.4L229.5,124.4L230.6,124.3L231.8,124.1L232.9,124.0L234.1,123.9L235.2,123.8L236.4,123.6L237.5,123.5L238.7,123.3L239.8,123.1L241,122.9L242.1,122.7L243.3,122.5L244.4,122.3L245.5,122.0L246.7,121.8L247.8,121.5L249,121.2L250.1,121.0L251.3,120.7L252.4,120.4L253.6,120.1L254.7,119.7L255.9,119.4L257,119.0L258.2,118.7L259.3,118.3L260.5,117.9L261.6,117.5L262.8,117.1L263.9,116.7L265,116.3L266.2,115.8L267.3,115.4L268.5,114.9L269.6,114.4L270.8,113.9L271.9,113.4L273.1,112.9L274.2,112.4L275.4,111.9L276.5,111.3L277.7,110.8L278.8,110.2L280,109.6L281.1,109.0L282.3,108.5L283.4,107.9L284.5,107.3L285.7,106.7L286.8,106.1L288,105.5L289.1,104.9L290.3,104.3L291.4,103.7L292.6,103.1L293.7,102.5L294.9,102.0L296,101.4L297.2,100.8L298.3,100.2L299.5,99.6L300.6,99.0L301.7,98.4L302.9,97.9L304,97.3L305.2,96.7L306.3,96.1L307.5,95.5L308.6,94.9L309.8,94.3L310.9,93.7L312.1,93.1L313.2,92.6L314.4,92.0L315.5,91.4L316.7,90.8L317.8,90.2L319,89.6L320.1,89.1L321.2,88.5L322.4,87.9L323.5,87.3L324.7,86.8" fill="none" stroke="#00ffff" stroke-width="2.2" stroke-dasharray="2.20 3.63" stroke-linejoin="round"/>
<path d="M188.2,129.3L189.3,129.3L190.5,129.3L191.6,129.3L192.8,129.3L193.9,129.3L195.1,129.3L196.2,129.3L197.4,129.3L198.5,129.3L199.7,129.3L200.8,129.2L202,129.2L203.1,129.2L204.3,129.2L205.4,129.2L206.6,129.2L207.7,129.1L208.8,129.1L210,129.1L211.1,129.0L212.3,129.0L213.4,129.0L214.6,128.9L215.7,128.9L216.9,128.8L218,128.8L219.2,128.7L220.3,128.7L221.5,128.6L222.6,128.5L223.8,128.4L224.9,128.4L226,128.3L227.2,128.2L228.3,128.1L229.5,128.0L230.6,127.9L231.8,127.8L232.9,127.6L234.1,127.5L235.2,127.4L236.4,127.3L237.5,127.1L238.7,127.0L239.8,126.8L241,126.6L242.1,126.5L243.3,126.3L244.4,126.1L245.5,125.9L246.7,125.7L247.8,125.5L249,125.3L250.1,125.0L251.3,124.8L252.4,124.6L253.6,124.3L254.7,124.1L255.9,123.8L257,123.6L258.2,123.3L259.3,123.0L260.5,122.8L261.6,122.5L262.8,122.2L263.9,121.9L265,121.6L266.2,121.3L267.3,121.0L268.5,120.6L269.6,120.3L270.8,119.9L271.9,119.6L273.1,119.2L274.2,118.8L275.4,118.5L276.5,118.1L277.7,117.7L278.8,117.2L280,116.8L281.1,116.4L282.3,116.0L283.4,115.6L284.5,115.2L285.7,114.7L286.8,114.3L288,113.9L289.1,113.5L290.3,113.1L291.4,112.7L292.6,112.4L293.7,112.0L294.9,111.6L296,111.3L297.2,110.9L298.3,110.5L299.5,110.2L300.6,109.9L301.7,109.5L302.9,109.2L304,108.9L305.2,108.6L306.3,108.3L307.5,107.9L308.6,107.6L309.8,107.3L310.9,107.0L312.1,106.7L313.2,106.4L314.4,106.1L315.5,105.9L316.7,105.6L317.8,105.3L319,105.0L320.1,104.8L321.2,104.5L322.4,104.2L323.5,104.0L324.7,103.7" fill="none" stroke="#ffbb78" stroke-width="2.2" stroke-linecap="square" stroke-linejoin="round"/>
<path d="M188.2,89.9L189.3,89.9L190.5,89.9L191.6,89.9L192.8,89.9L193.9,89.9L195.1,89.9L196.2,89.9L197.4,89.9L198.5,89.9L199.7,89.9L200.8,89.9L202,89.9L203.1,89.9L204.3,89.9L205.4,89.8L206.6,89.8L207.7,89.8L208.8,89.7L210,89.7L211.1,89.6L212.3,89.6L213.4,89.5L214.6,89.5L215.7,89.4L216.9,89.3L218,89.2L219.2,89.1L220.3,89.0L221.5,88.9L222.6,88.7L223.8,88.6L224.9,88.4L226,88.2L227.2,87.9L228.3,87.7L229.5,87.4L230.6,87.1L231.8,86.8L232.9,86.5L234.1,86.1L235.2,85.7L236.4,85.3L237.5,84.8L238.7,84.3L239.8,83.8L241,83.3L242.1,82.8L243.3,82.2L244.4,81.6L245.5,80.9L246.7,80.3L247.8,79.6L249,78.9L250.1,78.2L251.3,77.4L252.4,76.6L253.6,75.7L254.7,74.8L255.9,73.9L257,73.0L258.2,71.9L259.3,70.9L260.5,69.8L261.6,68.6L262.8,67.5L263.9,66.4L265,65.2L266.2,64.1L267.3,63.0L268.5,61.9L269.6,60.8L270.8,59.7L271.9,58.6L273.1,57.4L274.2,56.3L275.4,55.1L276.5,53.9L277.7,52.7L278.8,51.4L280,50.1L281.1,48.8L282.3,47.4L283.4,46.0L284.5,44.7L285.7,43.3L286.8,41.9L288,40.5L289.1,39.2L290.3,37.8L291.4,36.4L292.6,35.1L293.7,33.7L294.9,32.4L296,31.0L297.2,29.6L298.3,28.3L299.5,26.9L300.6,25.5L301.7,24.1L302.9,22.7L304,21.3L305.2,19.9L306.3,18.5L307.5,17.1L308.6,15.7L309.8,14.3L310.9,12.9L312.1,11.5L313.2,10.1L314.4,8.7L315.5,7.3L316.7,6.0L317.8,4.6L319,3.3L320.1,2.0L321.2,0.7L322.4,-0.6L323.5,-1.9L324.7,-3.1" fill="none" stroke="#17becf" stroke-width="2.2" stroke-linecap="square" stroke-linejoin="round"/>
</g>
<rect x="182.1" y="5.5" width="149.4" height="124.9" fill="none" stroke="#d3d3d3" stroke-width="1.5"/>
<text x="171.47" y="133.65" font-size="8.8" fill="#111" textLength="3.68" lengthAdjust="spacingAndGlyphs" xml:space="preserve" style="stroke-width:0.12">0</text>
<text x="165.44" y="102.45" font-size="8.8" fill="#111" textLength="10.15" lengthAdjust="spacingAndGlyphs" xml:space="preserve" style="stroke-width:0.12">50</text>
<text x="160.95" y="71.25" font-size="8.8" fill="#111" textLength="14.6" lengthAdjust="spacingAndGlyphs" xml:space="preserve" style="stroke-width:0.12">100</text>
<text x="160.95" y="40.05" font-size="8.8" fill="#111" textLength="14.6" lengthAdjust="spacingAndGlyphs" xml:space="preserve" style="stroke-width:0.12">150</text>
<text x="160.99" y="8.85" font-size="8.8" fill="#111" textLength="14.53" lengthAdjust="spacingAndGlyphs" xml:space="preserve" style="stroke-width:0.12">200</text>
<text x="185.42" y="144.1" font-size="10.0" fill="#111" textLength="5.58" lengthAdjust="spacingAndGlyphs" xml:space="preserve" style="stroke-width:0.12">0</text>
<text x="238.92" y="144.1" font-size="10.0" fill="#111" textLength="12.16" lengthAdjust="spacingAndGlyphs" xml:space="preserve" style="stroke-width:0.12">50</text>
<text x="291.98" y="144.1" font-size="10.0" fill="#111" textLength="18.04" lengthAdjust="spacingAndGlyphs" xml:space="preserve" style="stroke-width:0.12">100</text>
<text transform="translate(153.7,98.6) rotate(-90)" font-size="10.8" class="s" fill="#111" textLength="60.2" lengthAdjust="spacingAndGlyphs">&#916;<tspan font-style="italic">E</tspan>(<tspan font-style="italic">T</tspan>), meV</text>
<text x="226.46" y="158.4" font-size="10.8" fill="#111" textLength="6.12" lengthAdjust="spacingAndGlyphs" xml:space="preserve" style="stroke-width:0.1">k</text>
<text x="233.23" y="159.3" font-size="7.5" fill="#111" textLength="3.55" lengthAdjust="spacingAndGlyphs" xml:space="preserve" style="stroke-width:0.18">B</text>
<text x="237.97" y="158.4" font-size="10.8" fill="#111" textLength="5.1" lengthAdjust="spacingAndGlyphs" xml:space="preserve" style="stroke-width:0.1">T</text>
<text x="245.0" y="159.6" font-size="7.5" fill="#111" textLength="8.51" lengthAdjust="spacingAndGlyphs" xml:space="preserve" style="stroke-width:0.18">eff</text>
<text x="254.98" y="158.4" font-size="10.8" fill="#111" textLength="31.52" lengthAdjust="spacingAndGlyphs" xml:space="preserve" style="stroke-width:0.1">, meV</text>
<rect x="0.6" y="317.5" width="354.8" height="104.3" rx="2.5" fill="#fff" fill-opacity="0.8" stroke="#e4e4e4" stroke-width="1"/>
<path d="M5.7,328.7L32.6,328.7" fill="none" stroke="#1f77b4" stroke-width="4.6" stroke-linecap="square" stroke-linejoin="round"/>
<text x="35.0" y="333.60" font-size="14.1" fill="#111" textLength="101.1" lengthAdjust="spacingAndGlyphs">VASP 5.4 (LDA)</text>
<path d="M5.7,349.1L32.6,349.1" fill="none" stroke="#7f7f7f" stroke-width="2.2" stroke-dasharray="8.14 3.52" stroke-linejoin="round"/>
<text x="35.0" y="354.00" font-size="14.1" fill="#111" textLength="56.2" lengthAdjust="spacingAndGlyphs">Cak (14)</text>
<path d="M5.7,369.5L32.6,369.5" fill="none" stroke="#ff7f0e" stroke-width="2.2" stroke-dasharray="8.14 3.52" stroke-linejoin="round"/>
<text x="35.0" y="374.40" font-size="14.1" fill="#111" textLength="50.5" lengthAdjust="spacingAndGlyphs">Lin (14)</text>
<path d="M5.7,389.6L32.6,389.6" fill="none" stroke="#c5b0d5" stroke-width="2.2" stroke-dasharray="14.08 3.52 2.20 3.52" stroke-linejoin="round"/>
<text x="35.0" y="394.50" font-size="14.1" fill="#111" textLength="60.8" lengthAdjust="spacingAndGlyphs">Park (12)</text>
<path d="M5.7,409.8L32.6,409.8" fill="none" stroke="#ff9896" stroke-width="2.2" stroke-linecap="square" stroke-linejoin="round"/>
<text x="35.0" y="414.70" font-size="14.1" fill="#111" textLength="86.3" lengthAdjust="spacingAndGlyphs">Starikov (18)</text>
<path d="M163.9,328.7L190.8,328.7" fill="none" stroke="#ff0000" stroke-width="2.2" stroke-dasharray="2.20 3.63" stroke-linejoin="round"/>
<text x="193.6" y="333.60" font-size="14.1" fill="#111" textLength="100.5" lengthAdjust="spacingAndGlyphs">Derlet&#160;&#160;Mo (07)</text>
<path d="M163.9,349.1L190.8,349.1" fill="none" stroke="#dbdb8d" stroke-width="2.2" stroke-dasharray="2.20 3.63" stroke-linejoin="round"/>
<text x="193.6" y="354.00" font-size="14.1" fill="#111" textLength="94.3" lengthAdjust="spacingAndGlyphs">Smirnova (13)</text>
<path d="M163.9,369.5L190.8,369.5" fill="none" stroke="#00ffff" stroke-width="2.2" stroke-dasharray="2.20 3.63" stroke-linejoin="round"/>
<text x="193.6" y="374.40" font-size="14.1" fill="#111" textLength="66.5" lengthAdjust="spacingAndGlyphs">Zhou (04)</text>
<path d="M163.9,389.6L190.8,389.6" fill="none" stroke="#ffbb78" stroke-width="2.2" stroke-linecap="square" stroke-linejoin="round"/>
<text x="193.6" y="394.50" font-size="14.1" fill="#111" textLength="146.6" lengthAdjust="spacingAndGlyphs">Finnis-Sinclair (84,87)</text>
<path d="M163.9,409.8L190.8,409.8" fill="none" stroke="#17becf" stroke-width="2.2" stroke-linecap="square" stroke-linejoin="round"/>
<text x="193.6" y="414.70" font-size="14.1" fill="#111" textLength="156.1" lengthAdjust="spacingAndGlyphs">Girifalco Mo HighCutoff</text>
</svg>
</body></html>
